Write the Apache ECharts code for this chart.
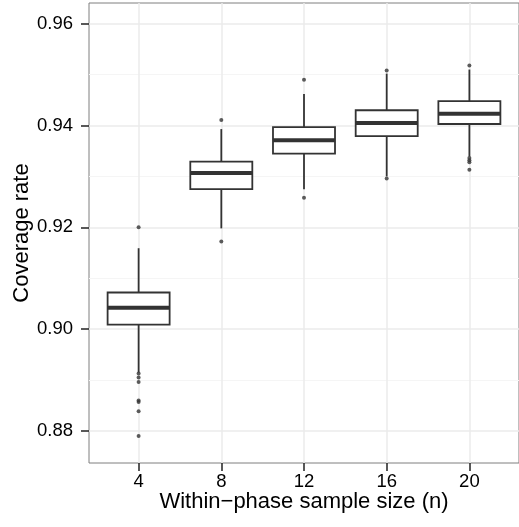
<!DOCTYPE html>
<html>
<head>
<meta charset="utf-8">
<script src="https://cdn.jsdelivr.net/npm/echarts@6/dist/echarts.min.js"></script>
<style>html,body{margin:0;padding:0;background:#fff}#c{width:519px;height:527px}</style>
</head>
<body>
<div id="c"></div>
<script>
// Data
const categories = ['4', '8', '12', '16', '20'];
const sampleSizes = [4, 8, 12, 16, 20];
const whiskerLow = [0.8915, 0.9198, 0.9275, 0.9300, 0.9339];
const q1 = [0.9009, 0.9275, 0.9345, 0.9379, 0.9403];
const median = [0.9042, 0.9307, 0.9371, 0.9405, 0.9423];
const q3 = [0.9072, 0.9329, 0.9397, 0.9430, 0.9448];
const whiskerHigh = [0.9159, 0.9393, 0.9462, 0.9502, 0.9510];
const outliers = [
  [0.9200, 0.8913, 0.8905, 0.8896, 0.8860, 0.8857, 0.8839, 0.8790],
  [0.9411, 0.9172],
  [0.9490, 0.9258],
  [0.9508, 0.9296],
  [0.9518, 0.9336, 0.9332, 0.9328, 0.9313]
];
const yTicks = [0.88, 0.90, 0.92, 0.94, 0.96];
const yMinor = [0.89, 0.91, 0.93, 0.95];

const boxData = sampleSizes.map((n, i) => [n, whiskerLow[i], q1[i], median[i], q3[i], whiskerHigh[i]]);
const outlierData = [];
outliers.forEach((arr, i) => arr.forEach(v => outlierData.push([sampleSizes[i], v])));

const FONT = '"Liberation Sans", Arial, Helvetica, sans-serif';
const BOX_W = 3; // in x units (0.75 of category spacing)

const chart = echarts.init(document.getElementById('c'), null, {renderer: 'canvas'});
chart.setOption({
  animation: false,
  backgroundColor: '#ffffff',
  grid: {
    left: 89, top: 3, right: -6, bottom: 64,
    show: true, borderColor: '#7f7f7f', borderWidth: 1, backgroundColor: 'transparent',
    containLabel: false
  },
  xAxis: {
    type: 'value', min: 1.6, max: 22.4,
    name: 'Within\u2212phase sample size (n)',
    nameLocation: 'middle', nameGap: 28, nameMoveOverlap: false,
    nameTextStyle: {fontFamily: FONT, fontSize: 22, color: '#000'},
    axisLine: {show: false},
    splitLine: {show: false},
    axisTick: {show: true, length: 8, inside: false, customValues: sampleSizes,
      lineStyle: {color: '#222', width: 1.5}},
    axisLabel: {customValues: sampleSizes, margin: 9, fontFamily: FONT, fontSize: 18.5, color: '#000',
      formatter: v => categories[sampleSizes.indexOf(v)] ?? ''}
  },
  yAxis: {
    type: 'value', min: 0.87371, max: 0.96407,
    name: 'Coverage rate',
    nameLocation: 'middle', nameGap: 56, nameMoveOverlap: false,
    nameTextStyle: {fontFamily: FONT, fontSize: 22, color: '#000'},
    axisLine: {show: false},
    splitLine: {show: false},
    axisTick: {show: true, length: 8, inside: false, customValues: yTicks,
      lineStyle: {color: '#222', width: 1.5}},
    axisLabel: {customValues: yTicks, margin: 16, fontFamily: FONT, fontSize: 18.5, color: '#000',
      formatter: v => v.toFixed(2)}
  },
  series: [
    {
      type: 'line', data: [], z: 0, silent: true,
      markLine: {
        silent: true, z: 0, symbol: 'none', label: {show: false}, animation: false,
        data: [
          ...yMinor.map(v => ({yAxis: v, lineStyle: {color: '#f5f5f5', width: 1.2, type: 'solid'}})),
          ...yTicks.map(v => ({yAxis: v, lineStyle: {color: '#ebebeb', width: 1.5, type: 'solid'}})),
          ...sampleSizes.map(v => ({xAxis: v, lineStyle: {color: '#ebebeb', width: 1.5, type: 'solid'}}))
        ]
      }
    },
    {
      type: 'custom', z: 10, silent: true,
      data: boxData,
      encode: {x: 0, y: [1, 2, 3, 4, 5]},
      renderItem: function (params, api) {
        const x = api.value(0);
        const lo = api.value(1), a = api.value(2), m = api.value(3), b = api.value(4), hi = api.value(5);
        const pLo = api.coord([x, lo]);
        const pHi = api.coord([x, hi]);
        const pA = api.coord([x - BOX_W / 2, a]);
        const pB = api.coord([x + BOX_W / 2, b]);
        const pMl = api.coord([x - BOX_W / 2, m]);
        const pMr = api.coord([x + BOX_W / 2, m]);
        const stroke = {stroke: '#333333', lineWidth: 1.8};
        return {
          type: 'group',
          children: [
            {type: 'line', shape: {x1: pHi[0], y1: pHi[1], x2: pHi[0], y2: pB[1]}, style: stroke},
            {type: 'line', shape: {x1: pLo[0], y1: pA[1], x2: pLo[0], y2: pLo[1]}, style: stroke},
            {type: 'rect', shape: {x: pA[0], y: pB[1], width: pB[0] - pA[0], height: pA[1] - pB[1]},
              style: {fill: '#ffffff', stroke: '#333333', lineWidth: 1.8}},
            {type: 'line', shape: {x1: pMl[0], y1: pMl[1], x2: pMr[0], y2: pMr[1]},
              style: {stroke: '#333333', lineWidth: 4}}
          ]
        };
      }
    },
    {
      type: 'scatter', z: 11, silent: true,
      data: outlierData, symbol: 'circle', symbolSize: 4,
      itemStyle: {color: '#333333'}
    }
  ]
});
</script>
</body>
</html>
